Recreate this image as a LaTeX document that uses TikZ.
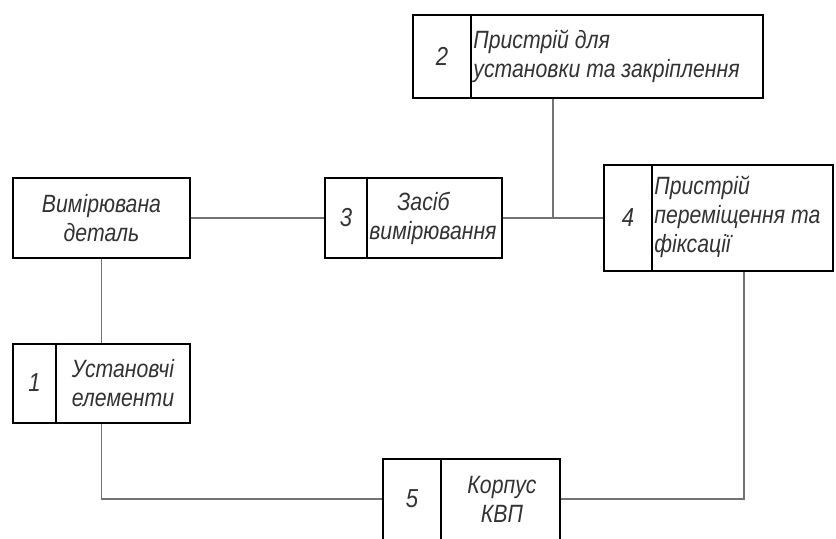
\documentclass[tikz,border=0pt]{standalone}
\usepackage{fontspec}
\setmainfont{Liberation Sans}[ItalicFeatures={FakeStretch=0.85}]
\begin{document}
\begin{tikzpicture}[x=0.5pt,y=-0.5pt,
  box/.style={draw=black,line width=1.3pt,inner sep=0pt},
  div/.style={draw=black,line width=1.3pt},
  conn/.style={draw=black!55,line width=0.6pt},
  lbl/.style={font=\fontsize{12.5}{14.5}\selectfont\itshape,inner sep=0pt,text=black!80},
  num/.style={font=\fontsize{13}{15}\selectfont\itshape,inner sep=0pt,text=black!80}]
\useasboundingbox (0,0) rectangle (836,538);
\clip (0,0) rectangle (836,538);
% boxes
\node[box,minimum width=88.5pt,minimum height=40pt] (det) at (101.5,218) {};
\node[box,minimum width=88.5pt,minimum height=40pt] (b3) at (413.5,218) {};
\node[box,minimum width=175pt,minimum height=41.5pt] (b2) at (588,56.5) {};
\node[box,minimum width=114.5pt,minimum height=53pt] (b4) at (718.5,218) {};
\node[box,minimum width=88.5pt,minimum height=39.5pt] (b1) at (101.5,383.5) {};
\node[box,minimum width=88.5pt,minimum height=42pt] (b5) at (471.5,501) {};
% dividers
\coordinate (d3) at (367,0);
\coordinate (d2) at (471,0);
\coordinate (d4) at (652,0);
\coordinate (d1) at (56,0);
\coordinate (d5) at (441,0);
\draw[div] (b3.north -| d3) -- (b3.south -| d3);
\draw[div] (b2.north -| d2) -- (b2.south -| d2);
\draw[div] (b4.north -| d4) -- (b4.south -| d4);
\draw[div] (b1.north -| d1) -- (b1.south -| d1);
\draw[div] (b5.north -| d5) -- (b5.south -| d5);
% numbers
\node[num] (n3) at (346,218) {3};
\node[num] (n2) at (442,56) {2};
\node[num] (n4) at (628,218) {4};
\node[num] (n1) at (34.5,383) {1};
\node[num] (n5) at (412,499) {5};
% texts
\node[lbl,align=center] (tdet) at (101.5,218) {Вимірювана\\деталь};
\node[lbl,align=left,anchor=west] (t3) at (369,218) {\hspace*{14pt}Засіб\\вимірювання};
\node[lbl,align=left,anchor=west] (t2) at (473,56) {Пристрій для\\установки та закріплення};
\node[lbl,align=left,anchor=west] (t4) at (654,217) {Пристрій\\переміщення та\\фіксації};
\node[lbl,align=center] (t1) at (123,383) {Установчі\\елементи};
\node[lbl,align=center] (t5) at (502,499) {Корпус\\КВП};
% connectors
\coordinate (j) at (553,218);
\coordinate (k) at (744,499);
\draw[conn] (det.east) -- (b3.west);
\draw[conn] (b3.east) -- (b4.west);
\draw[conn] (b2.south -| j) -- (j);
\draw[conn] (det.south) -- (b1.north);
\draw[conn] (b1.south) -- (b1.south |- k) -- (k -| b5.west);
\draw[conn] (b4.south -| k) -- (k) -- (k -| b5.east);
\end{tikzpicture}
\end{document}
